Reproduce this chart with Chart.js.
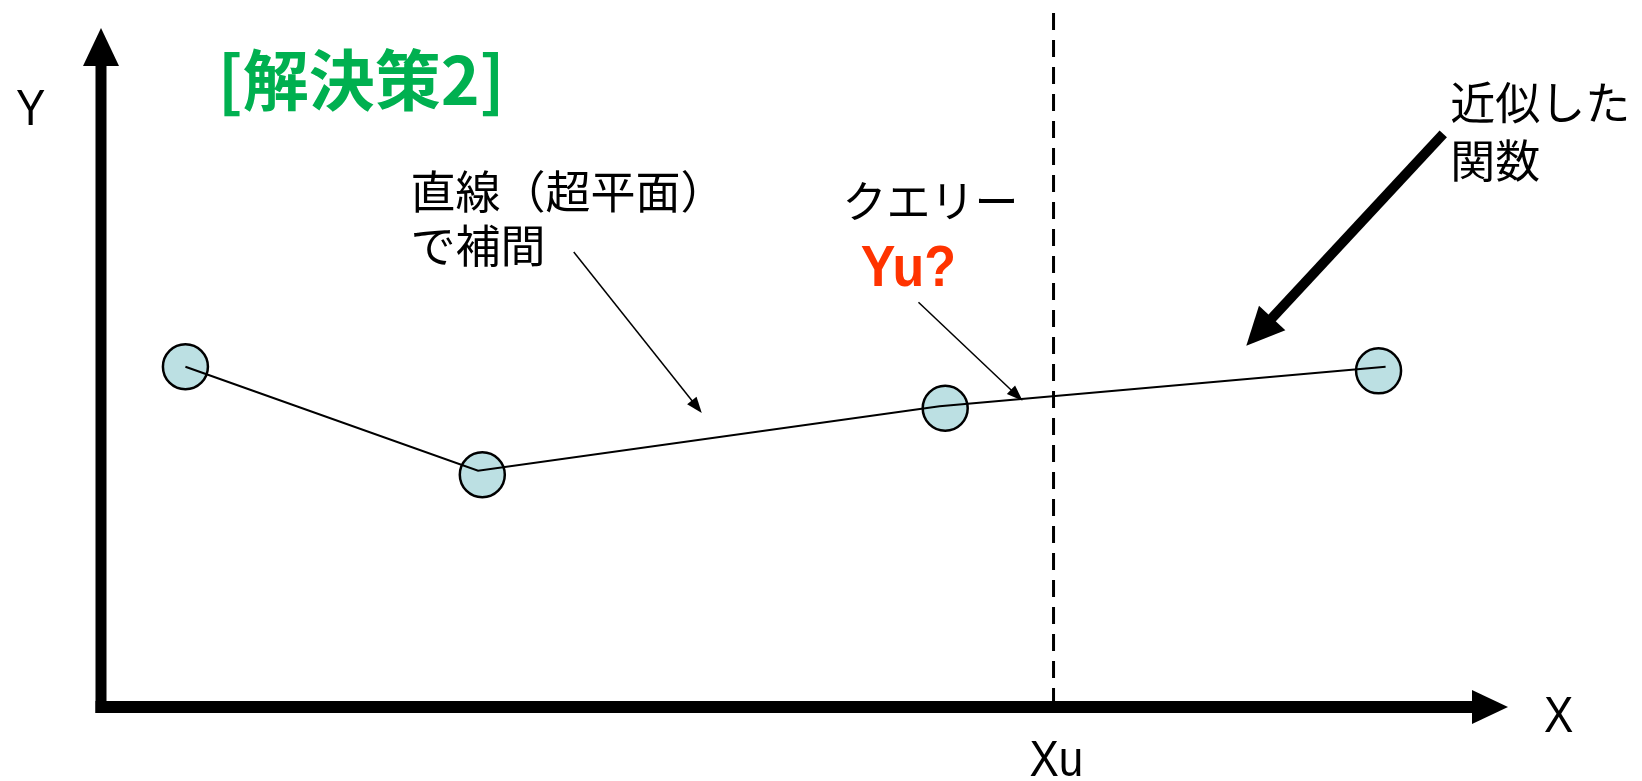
<!DOCTYPE html>
<html>
<head>
<meta charset="utf-8">
<script src="https://cdn.jsdelivr.net/npm/chart.js@4/dist/chart.umd.min.js"></script>
<style>
  body { margin: 0; background: #fff; }
  canvas { display: block; }
</style>
</head>
<body>
<canvas id="chartCanvas" width="1642" height="781"></canvas>
<script>
// 観測点（円）
const pointX = [0.6, 2.71, 6.0, 9.08];
const pointY = [5.01, 3.42, 4.40, 4.95];
// 直線で補間した折れ線
const lineX = [0.6, 2.68, 5.96, 9.13];
const lineY = [5.01, 3.48, 4.43, 5.01];
// クエリー位置
const queryX = 6.77;
const axisMaxX = 10;
const axisMaxY = 10;

const CJK = '"Noto Sans CJK JP", sans-serif';
const LATIN = '"Liberation Sans", Arial, sans-serif';

// 注釈テキスト（データ座標）
const labels = [
    { text: '[解決策2]', x: 0.83, y: 9.23, font: 'bold 66px ' + CJK, color: '#00b050' },
    { text: '直線（超平面）', x: 2.2, y: 7.58, font: '45px ' + CJK, color: '#000' },
    { text: 'で補間', x: 2.2, y: 6.79, font: '45px ' + CJK, color: '#000' },
    { text: 'クエリー', x: 5.27, y: 7.44, font: '44px ' + CJK, color: '#000' },
    { text: 'Yu?', x: 5.40, y: 6.43, font: 'bold 52px ' + LATIN, color: '#ff3300', sy: 1.12 },
    { text: '近似した', x: 9.59, y: 8.89, font: '45px ' + CJK, color: '#000' },
    { text: '関数', x: 9.59, y: 8.04, font: '45px ' + CJK, color: '#000' },
    { text: 'Y', x: -0.5, y: 8.77, font: '44px ' + LATIN, color: '#000', align: 'center', sy: 1.13 },
    { text: 'X', x: 10.36, y: -0.16, font: '44px ' + LATIN, color: '#000', align: 'center', sy: 1.13 },
    { text: 'Xu', x: 6.79, y: -0.81, font: '44px ' + LATIN, color: '#000', align: 'center', sy: 1.13 }
];

// 注釈の矢印（データ座標）
const arrows = [
    { from: [3.36, 6.70], to: [4.27, 4.33], width: 1.5, head: 16, half: 6 },
    { from: [5.81, 5.96], to: [6.55, 4.51], width: 1.5, head: 16, half: 6 },
    { from: [9.54, 8.44], to: [8.14, 5.32], width: 10, head: 38, half: 18 }
];

function drawArrow(ctx, x1, y1, x2, y2, width, head, half) {
    const ang = Math.atan2(y2 - y1, x2 - x1);
    const bx = x2 - head * Math.cos(ang);
    const by = y2 - head * Math.sin(ang);
    ctx.save();
    ctx.strokeStyle = '#000';
    ctx.fillStyle = '#000';
    ctx.lineWidth = width;
    ctx.lineCap = 'butt';
    ctx.beginPath();
    ctx.moveTo(x1, y1);
    ctx.lineTo(bx + Math.cos(ang), by + Math.sin(ang));
    ctx.stroke();
    ctx.beginPath();
    ctx.moveTo(x2, y2);
    ctx.lineTo(bx + half * Math.sin(ang), by - half * Math.cos(ang));
    ctx.lineTo(bx - half * Math.sin(ang), by + half * Math.cos(ang));
    ctx.closePath();
    ctx.fill();
    ctx.restore();
}

// 軸・破線・注釈を描くプラグイン
const diagramPlugin = {
    id: 'diagram',
    beforeDatasetsDraw(chart) {
        const ctx = chart.ctx;
        const xs = chart.scales.x, ys = chart.scales.y;
        const oy = ys.getPixelForValue(0);
        const qx = xs.getPixelForValue(queryX);

        // クエリーの破線
        ctx.save();
        ctx.strokeStyle = '#000';
        ctx.lineWidth = 3;
        ctx.setLineDash([17, 10]);
        ctx.beginPath();
        ctx.moveTo(qx, chart.chartArea.top);
        ctx.lineTo(qx, oy - 6);
        ctx.stroke();
        ctx.restore();
    },
    afterDraw(chart) {
        const ctx = chart.ctx;
        const xs = chart.scales.x, ys = chart.scales.y;
        const ox = xs.getPixelForValue(0), oy = ys.getPixelForValue(0);
        const tx = xs.getPixelForValue(axisMaxX), ty = ys.getPixelForValue(axisMaxY);

        // 軸
        drawArrow(ctx, ox, oy + 6, ox, ty, 11, 38, 18);
        drawArrow(ctx, ox - 5.5, oy, tx, oy, 12, 36, 17);

        arrows.forEach(a => {
            drawArrow(ctx,
                xs.getPixelForValue(a.from[0]), ys.getPixelForValue(a.from[1]),
                xs.getPixelForValue(a.to[0]), ys.getPixelForValue(a.to[1]),
                a.width, a.head, a.half);
        });

        labels.forEach(l => {
            const px = xs.getPixelForValue(l.x);
            const py = ys.getPixelForValue(l.y);
            const sy = l.sy || 1;
            ctx.save();
            ctx.translate(px, py);
            ctx.scale(1, sy);
            ctx.font = l.font;
            ctx.fillStyle = l.color;
            ctx.textAlign = l.align || 'left';
            ctx.textBaseline = 'middle';
            ctx.fillText(l.text, 0, 0);
            ctx.restore();
        });
    }
};

const ctx = document.getElementById('chartCanvas').getContext('2d');
new Chart(ctx, {
    type: 'scatter',
    data: {
        datasets: [
            {
                label: '補間',
                data: lineX.map((x, i) => ({ x: x, y: lineY[i] })),
                showLine: true,
                borderColor: '#000',
                borderWidth: 2,
                pointRadius: 0,
                fill: false
            },
            {
                label: '観測点',
                data: pointX.map((x, i) => ({ x: x, y: pointY[i] })),
                pointRadius: 22.5,
                pointBackgroundColor: '#bce0e3',
                pointBorderColor: '#000',
                pointBorderWidth: 2.5
            }
        ]
    },
    options: {
        responsive: false,
        animation: false,
        devicePixelRatio: 1,
        layout: { autoPadding: false, padding: { left: 101, right: 134, top: 13, bottom: 74 } },
        scales: {
            x: { type: 'linear', min: 0, max: 10, display: false },
            y: { type: 'linear', min: 0, max: 10.22, display: false }
        },
        plugins: {
            legend: { display: false },
            tooltip: { enabled: false }
        }
    },
    plugins: [diagramPlugin]
});
</script>
</body>
</html>
